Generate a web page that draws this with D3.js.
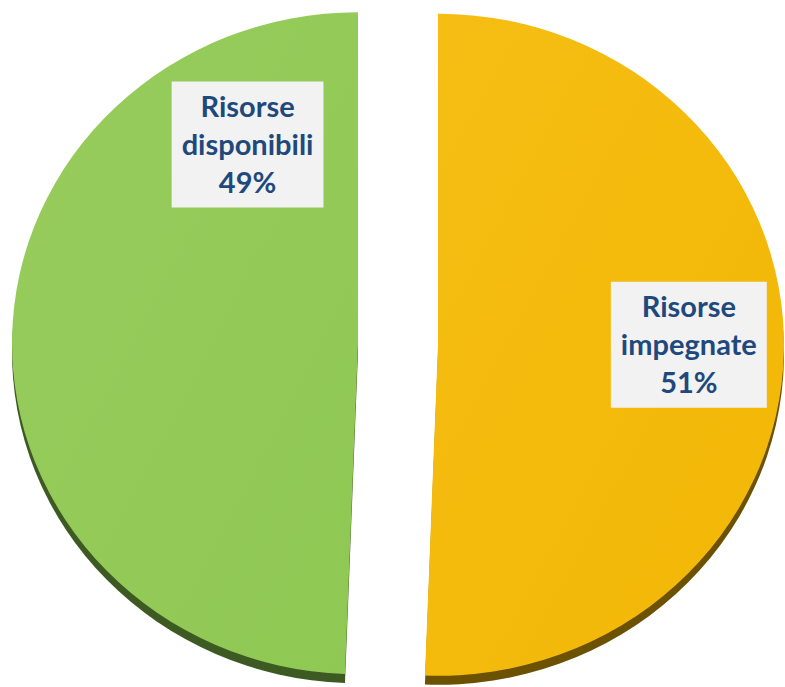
<!DOCTYPE html>
<html>
<head>
<meta charset="utf-8">
<script src="https://cdn.jsdelivr.net/npm/d3@7"></script>
<style>
  body { margin: 0; background: #fff; }
  svg { display: block; }
</style>
</head>
<body>
<div id="pieChart"></div>
<script>
// Chart data
const categories = ["Risorse impegnate", "Risorse disponibili"];
const values = [50.6, 49.4];
const labelLines = [["Risorse", "impegnate"], ["Risorse", "disponibili"]];

// Drawing area and pie geometry
const w = 785;
const h = 687;
const cx = 398;
const cy = 344;
const rx = 346;
const ry = 331;
const explode = 40;
const depth = 9;

const faceColors = ["#F2B705", "#90C854"];
const faceLight = ["#F6BE14", "#97CC5C"];
const sideColors = ["#6B5100", "#3D5A22"];

// where each label box sits (angle in degrees clockwise from top, radius as fraction)
const labelAngle = [90, 332];
const labelRadius = [0.725, 0.68];

const svg = d3.select("#pieChart").append("svg")
  .attr("width", w)
  .attr("height", h);

const defs = svg.append("defs");
faceColors.forEach((c, i) => {
  const g = defs.append("linearGradient")
    .attr("id", "face" + i)
    .attr("x1", "0").attr("y1", "0")
    .attr("x2", "1").attr("y2", "1");
  g.append("stop").attr("offset", "0%").attr("stop-color", faceLight[i]);
  g.append("stop").attr("offset", "100%").attr("stop-color", c);
});

const pie = d3.pie().sort(null).startAngle(0).endAngle(2 * Math.PI);
const arcs = pie(values);

const arc = d3.arc().innerRadius(0).outerRadius(rx);

// offset of every slice along its middle angle
function offset(d) {
  const mid = (d.startAngle + d.endAngle) / 2;
  return [explode * Math.sin(mid), -explode * Math.cos(mid)];
}

const slices = svg.selectAll("g.slice")
  .data(arcs)
  .enter()
  .append("g")
  .attr("class", "slice")
  .attr("transform", d => {
    const [dx, dy] = offset(d);
    return `translate(${cx + dx},${cy + dy})`;
  });

// side of the disc, the same shape moved down
slices.append("path")
  .attr("transform", `translate(0,${depth}) scale(1,${ry / rx})`)
  .attr("d", arc)
  .attr("fill", (d, i) => sideColors[i]);

// top face
slices.append("path")
  .attr("transform", `scale(1,${ry / rx})`)
  .attr("d", arc)
  .attr("fill", (d, i) => `url(#face${i})`);

// labels
const lineHeight = 38;
const labels = slices.append("g")
  .attr("class", "label")
  .attr("transform", (d, i) => {
    const a = labelAngle[i] * Math.PI / 180;
    return `translate(${labelRadius[i] * rx * Math.sin(a)},${-labelRadius[i] * ry * Math.cos(a)})`;
  });

const boxes = labels.append("rect").attr("fill", "#F2F2F2");

const texts = labels.append("text")
  .attr("text-anchor", "middle")
  .attr("font-family", "Lato, 'Open Sans', sans-serif")
  .attr("font-weight", "bold")
  .attr("font-size", 29)
  .attr("fill", "#1F497D");

texts.each(function (d, i) {
  const pct = Math.round(100 * d.value / d3.sum(values)) + "%";
  const lines = labelLines[i].concat([pct]);
  d3.select(this).selectAll("tspan")
    .data(lines)
    .enter()
    .append("tspan")
    .attr("x", 0)
    .attr("y", (t, j) => (j - 1) * lineHeight + 10)
    .text(t => t);
});

boxes.each(function (d, i) {
  const bb = texts.nodes()[i].getBBox();
  d3.select(this)
    .attr("x", bb.x - 10)
    .attr("y", -63)
    .attr("width", bb.width + 20)
    .attr("height", 126);
});
</script>
</body>
</html>
